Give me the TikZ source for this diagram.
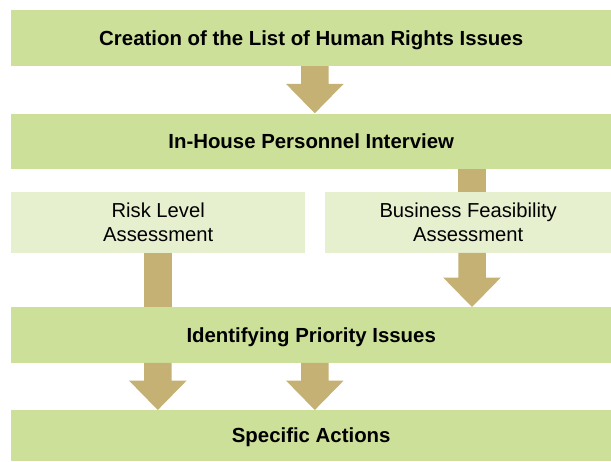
\documentclass[tikz,border=0pt]{standalone}
\usepackage{fontspec}
\setmainfont{Liberation Sans}
\usetikzlibrary{calc}
\definecolor{boxdark}{RGB}{205,224,154}
\definecolor{boxlight}{RGB}{230,240,207}
\definecolor{arrowc}{RGB}{196,177,115}
\tikzset{
  mainbox/.style={fill=boxdark, draw=none, minimum width=600pt, inner sep=0pt,
    text height=14.3pt, text depth=0pt,
    font=\fontsize{20.4}{24}\selectfont\bfseries, anchor=north west},
  subbox/.style={fill=boxlight, draw=none, minimum height=60.5pt, inner sep=0pt,
    align=center, font=\fontsize{20.2}{24}\selectfont, anchor=north west},
  arrowfill/.style={fill=arrowc, draw=none}
}
\newcommand\blockarrow[2]{%
  \fill[arrowfill] let \p1=(#1), \p2=(#2) in
    (\x1-13.75pt,\y1) -- (\x1+13.75pt,\y1) -- (\x1+13.75pt,\y2+29.4pt) --
    (\x1+28.8pt,\y2+29.4pt) -- (\x2,\y2) -- (\x1-28.8pt,\y2+29.4pt) --
    (\x1-13.75pt,\y2+29.4pt) -- cycle;}
\newcommand\blockshaft[2]{%
  \fill[arrowfill] let \p1=(#1), \p2=(#2) in
    (\x1-13.75pt,\y1) rectangle (\x1+13.75pt,\y2);}
\begin{document}
\begin{tikzpicture}[x=1pt,y=-1pt]
\useasboundingbox (0,0) rectangle (611,461);
\node[mainbox, minimum height=55.7pt] (b1) at (11,10) {Creation of the List of Human Rights Issues};
\node[mainbox, minimum height=55pt] (b2) at (11,113.3) {In-House Personnel Interview};
\node[subbox, minimum width=294pt] (risk) at (11,192) {Risk Level\\Assessment};
\node[subbox, minimum width=286pt] (bus) at (325,192) {Business Feasibility\\Assessment};
\node[mainbox, minimum height=55.5pt] (b3) at (11,307) {Identifying Priority Issues};
\node[mainbox, minimum height=51pt] (b4) at (11,410) {Specific Actions};
\coordinate (xa) at (314.8,0);
\coordinate (xl) at (157.8,0);
\coordinate (xr) at (472,0);
\coordinate (s1) at (b1.south -| xa); \coordinate (e1) at (b2.north -| xa);
\coordinate (s2) at (b2.south -| xr); \coordinate (e2) at (bus.north -| xr);
\coordinate (s3) at (risk.south -| xl); \coordinate (e3) at (b3.north -| xl);
\coordinate (s4) at (bus.south -| xr); \coordinate (e4) at (b3.north -| xr);
\coordinate (s5) at (b3.south -| xl); \coordinate (e5) at (b4.north -| xl);
\coordinate (s6) at (b3.south -| xa); \coordinate (e6) at (b4.north -| xa);
\blockarrow{s1}{e1}
\blockshaft{s2}{e2}
\blockshaft{s3}{e3}
\blockarrow{s4}{e4}
\blockarrow{s5}{e5}
\blockarrow{s6}{e6}
\end{tikzpicture}
\end{document}
